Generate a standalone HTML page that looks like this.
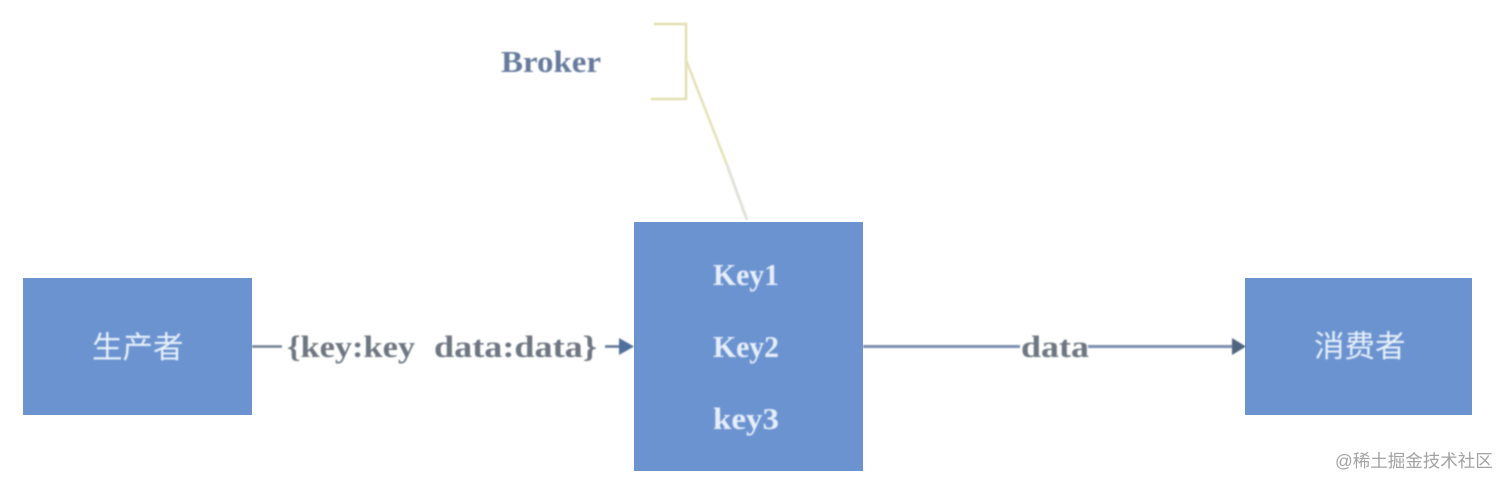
<!DOCTYPE html>
<html>
<head>
<meta charset="utf-8">
<style>
html,body{margin:0;padding:0;background:#fff;}
svg{display:block;}
.m{font-family:"Liberation Serif","DejaVu Serif",serif;font-weight:700;}
.c{font-family:"Liberation Sans","Noto Sans CJK SC",sans-serif;}
</style>
</head>
<body>
<svg width="1512" height="488" viewBox="0 0 1512 488" xmlns="http://www.w3.org/2000/svg">
<defs><filter id="b" x="-5%" y="-20%" width="110%" height="140%"><feGaussianBlur stdDeviation="0.8"/></filter></defs>
<rect width="1512" height="488" fill="#fff"/>

<!-- boxes -->
<rect x="23" y="278" width="229" height="137" fill="#6b93d0"/>
<rect x="634" y="222" width="229" height="249" fill="#6b93d0"/>
<rect x="1245" y="278" width="227" height="137" fill="#6b93d0"/>

<!-- bracket -->
<g filter="url(#b)" fill="none">
<path d="M654 24H686V99H651" stroke="#e0dfae" stroke-width="2.5"/>
<path d="M686 60L727 165" stroke="#e3e2b8" stroke-width="2.5"/>
<path d="M727 165L747 220" stroke="#e2e2dc" stroke-width="3"/>
</g>

<!-- connectors -->
<g filter="url(#b)">
<path d="M252 346.500H282" stroke="#6f7f92" stroke-width="2.500"/>
<path d="M605 346.500H622" stroke="#5f7591" stroke-width="2.500"/>
<path d="M619 338L634 346.500L619 355Z" fill="#4f6f9c"/>
<path d="M863 346.500H1020" stroke="#7a8fb0" stroke-width="3"/>
<path d="M1088 346.500H1234" stroke="#7a8fb0" stroke-width="3"/>
<path d="M1232 338L1246 346.500L1232 355Z" fill="#4f657f"/>
</g>

<!-- labels -->
<g filter="url(#b)" class="m">
<text x="501" y="72" font-size="31" textLength="100" lengthAdjust="spacingAndGlyphs" fill="#667a9c">Broker</text>
<g font-size="31" fill="#6e7681">
<text x="287" y="357" textLength="128" lengthAdjust="spacingAndGlyphs">{key:key</text>
<text x="434" y="357" textLength="163" lengthAdjust="spacingAndGlyphs">data:data}</text>
<text x="1021" y="357" textLength="68" lengthAdjust="spacingAndGlyphs">data</text>
</g>
<g font-size="31" fill="#e6eefa">
<text x="713" y="285" textLength="66" lengthAdjust="spacingAndGlyphs">Key1</text>
<text x="713" y="357" textLength="66" lengthAdjust="spacingAndGlyphs">Key2</text>
<text x="713" y="429" textLength="66" lengthAdjust="spacingAndGlyphs">key3</text>
</g>
</g>
<g filter="url(#b)" class="c" fill="#e6f0fb">
<text x="92" y="358" font-size="30.500">生产者</text>
<text x="1314" y="357" font-size="30.500">消费者</text>
</g>

<text x="1335" y="467" class="c" font-size="17.500" fill="#a3a3a3">@稀土掘金技术社区</text>
</svg>
</body>
</html>
